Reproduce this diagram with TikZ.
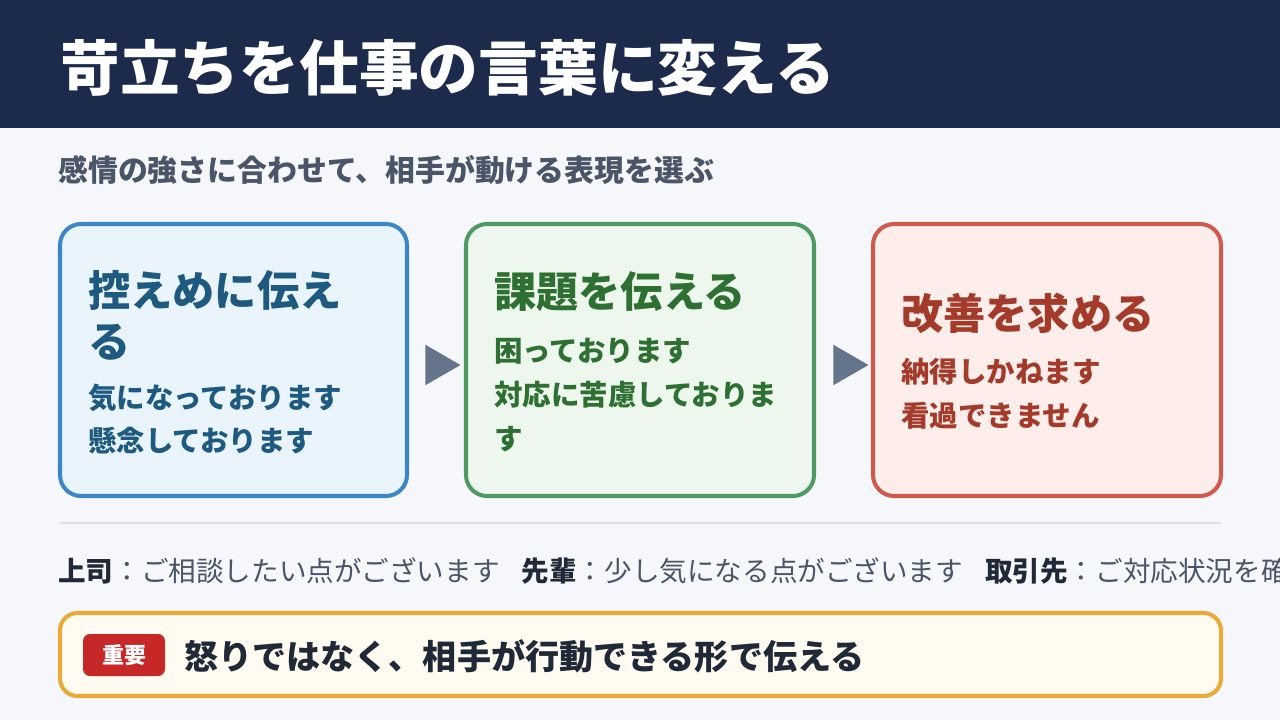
\documentclass[tikz,border=0pt]{standalone}
\usepackage{fontspec}
\setmainfont{Noto Sans CJK JP}
\usetikzlibrary{positioning,shapes.geometric}
\definecolor{navy}{HTML}{1C2B4B}
\definecolor{subgray}{HTML}{4A5568}
\definecolor{arrgray}{HTML}{64748B}
\definecolor{bluedraw}{HTML}{3B86C4}
\definecolor{bluefill}{HTML}{EAF4FD}
\definecolor{bluetext}{HTML}{1E5A80}
\definecolor{greendraw}{HTML}{4E9A62}
\definecolor{greenfill}{HTML}{EEF7EE}
\definecolor{greentext}{HTML}{2E7032}
\definecolor{reddraw}{HTML}{CD5A4C}
\definecolor{redfill}{HTML}{FDEEEC}
\definecolor{redtext}{HTML}{A33A2A}
\definecolor{orangedraw}{HTML}{EBAA35}
\definecolor{cream}{HTML}{FFFBF1}
\definecolor{tagred}{HTML}{C62828}
\definecolor{pagebg}{HTML}{F5F7FB}
\definecolor{darktext}{HTML}{1F2937}

\begin{document}
\begin{tikzpicture}[x=0.02cm,y=-0.02cm,semithick]
		\tikzstyle{card}=[rounded corners=12pt,line width=2.3pt]
		\tikzstyle{cardtitle}=[anchor=west,font=\bfseries\fontsize{24}{29}\selectfont,align=left]
		\tikzstyle{cardbody}=[anchor=west,font=\bfseries\fontsize{16.2}{25}\selectfont,align=left]
		\tikzstyle{steparrow}=[fill=arrgray,isosceles triangle,isosceles triangle apex angle=60,
			inner sep=0pt,minimum height=20pt,draw=none]
		
		\fill[pagebg] (0,0) rectangle (1280,720);
		\useasboundingbox (0,0) rectangle (1280,720);
		\fill[navy] (0,0) rectangle (1280,128);
		\node[anchor=west,text=white,font=\bfseries\fontsize{34}{40}\selectfont] (title) at (54,68) {苛立ちを仕事の言葉に変える};
		\node[anchor=west,text=subgray,font=\bfseries\fontsize{17}{20}\selectfont] (sub) at (52,170) {感情の強さに合わせて、相手が動ける表現を選ぶ};
		
		\draw[card,draw=bluedraw,fill=bluefill] (60,224) rectangle (407,496);
		\draw[card,draw=greendraw,fill=greenfill] (466,224) rectangle (814,496);
		\draw[card,draw=reddraw,fill=redfill] (873,224) rectangle (1221,496);
		
		\node[cardtitle,text=bluetext] (t1) at (82,315) {控えめに伝え\\る};
		\node[cardbody,text=bluetext] (b1) at (82,419) {気になっております\\懸念しております};
		\node[cardtitle,text=greentext] (t2) at (488,292) {課題を伝える};
		\node[cardbody,text=greentext] (b2) at (488,395) {困っております\\対応に苦慮しておりま\\す};
		\node[cardtitle,text=redtext] (t3) at (895,313) {改善を求める};
		\node[cardbody,text=redtext] (b3) at (895,394) {納得しかねます\\看過できません};
		
		\node[steparrow] (a1) at (437,365) {};
		\node[steparrow] (a2) at (845,365) {};
		
		\draw[black!12,line width=1pt] (60,523) -- (1221,523);
		\node[anchor=west,text=subgray,font=\fontsize{15.7}{18}\selectfont] (bosses) at (52,571)
			{{\bfseries\color{darktext}上司}：ご相談したい点がございます\hspace{0.8em}{\bfseries\color{darktext}先輩}：少し気になる点がございます\hspace{0.8em}{\bfseries\color{darktext}取引先}：ご対応状況を確};
		
		\draw[rounded corners=10pt,line width=2.3pt,draw=orangedraw,fill=cream] (60,613) rectangle (1221,696);
		\fill[tagred,rounded corners=4pt] (83,634) rectangle (165,676);
		\node[text=white,font=\bfseries\fontsize{12.5}{14}\selectfont] (tag) at (124,655) {重要};
		\node[anchor=west,text=darktext,font=\bfseries\fontsize{19.4}{22}\selectfont] (key) at (178,656) {怒りではなく、相手が行動できる形で伝える};
		\end{tikzpicture}
\end{document}
